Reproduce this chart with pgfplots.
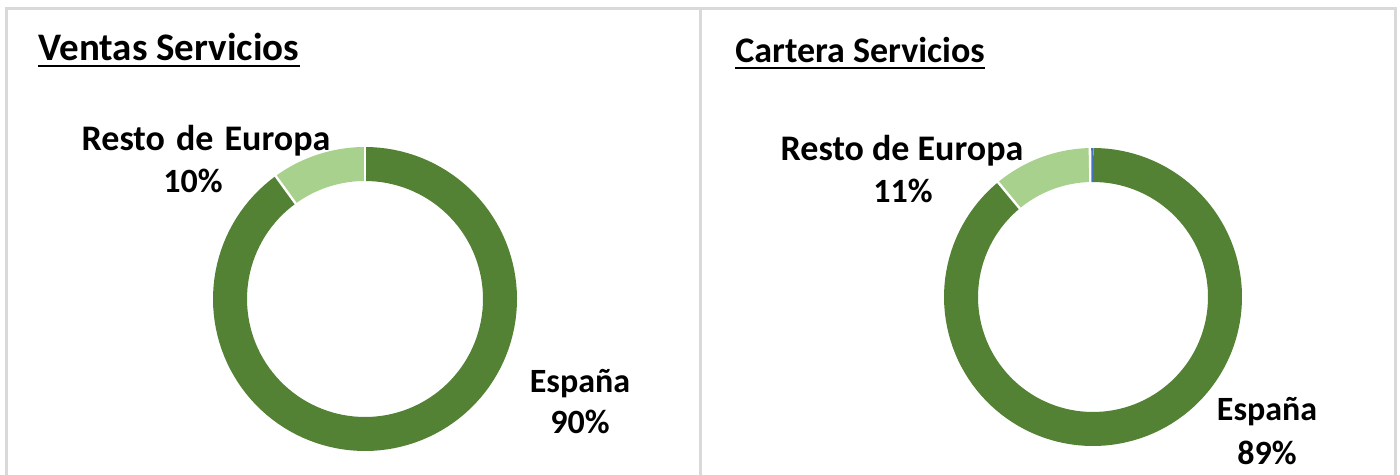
\documentclass[border=0pt]{standalone}
\usepackage{fontspec}
\setmainfont{Carlito}
\usepackage{pgfplots}
\usepackage{pgfplotstable}
\pgfplotsset{compat=1.18}
\definecolor{dgreen}{HTML}{548235}
\definecolor{lgreen}{HTML}{A9D18E}
\definecolor{oblue}{HTML}{4472C4}
\definecolor{bgray}{HTML}{D9D9D9}

\pgfplotstableread{
region value
Espana 90
Resto 10
}\ventas
\pgfplotstableread{
region value
Espana 89
Resto 10.8
Otros 0.2
}\cartera

\pgfplotstablegetelem{0}{value}\of\ventas \pgfmathsetmacro\vA{\pgfplotsretval}
\pgfplotstablegetelem{1}{value}\of\ventas \pgfmathsetmacro\vB{\pgfplotsretval}
\pgfplotstablegetelem{0}{value}\of\cartera \pgfmathsetmacro\cA{\pgfplotsretval}
\pgfplotstablegetelem{1}{value}\of\cartera \pgfmathsetmacro\cB{\pgfplotsretval}
\pgfplotstablegetelem{2}{value}\of\cartera \pgfmathsetmacro\cC{\pgfplotsretval}

\pgfmathsetmacro\LaE{90-3.6*\vA}
\pgfmathsetmacro\LbE{\LaE-3.6*\vB}
\pgfmathsetmacro\RaE{90-3.6*\cA}
\pgfmathsetmacro\RbE{\RaE-3.6*\cB}
\pgfmathsetmacro\RcE{\RbE-3.6*\cC}

% centres / radii in pixel units
\def\Lx{365}\def\Ly{299}\def\Lm{135}
\def\Rx{1093}\def\Ry{297}\def\Rm{132}

\begin{document}
\begin{tikzpicture}
\begin{axis}[name=ax,
  x=0.5pt, y=0.5pt, xmin=0, xmax=1400, ymin=0, ymax=475, y dir=reverse,
  hide axis, scale only axis, clip=true]
% panels
\draw[bgray, line width=1.5pt] (axis cs:6,520) -- (axis cs:6,9) -- (axis cs:1395,9) -- (axis cs:1395,520);
\draw[bgray, line width=1.5pt] (axis cs:700.5,9) -- (axis cs:700.5,520);

% left donut
\addplot[dgreen, line width=17pt, domain=\LaE:90, samples=120, variable=\t]
  ({\Lx+\Lm*cos(t)},{\Ly-\Lm*sin(t)});
\addplot[lgreen, line width=17pt, domain=\LbE:\LaE, samples=30, variable=\t]
  ({\Lx+\Lm*cos(t)},{\Ly-\Lm*sin(t)});
\draw[white, line width=1.2pt] (axis cs:{\Lx+110*cos(\LaE)},{\Ly-110*sin(\LaE)}) -- (axis cs:{\Lx+160*cos(\LaE)},{\Ly-160*sin(\LaE)});
\draw[white, line width=1.2pt] (axis cs:{\Lx+110*cos(\LbE)},{\Ly-110*sin(\LbE)}) -- (axis cs:{\Lx+160*cos(\LbE)},{\Ly-160*sin(\LbE)});

% right donut
\addplot[dgreen, line width=17pt, domain=\RaE:90, samples=120, variable=\t]
  ({\Rx+\Rm*cos(t)},{\Ry-\Rm*sin(t)});
\addplot[lgreen, line width=17pt, domain=\RbE:\RaE, samples=30, variable=\t]
  ({\Rx+\Rm*cos(t)},{\Ry-\Rm*sin(t)});
\draw[white, line width=1.2pt] (axis cs:{\Rx+108*cos(\RaE)},{\Ry-108*sin(\RaE)}) -- (axis cs:{\Rx+156*cos(\RaE)},{\Ry-156*sin(\RaE)});
\draw[white, line width=1.6pt] (axis cs:{\Rx+108*cos(\RbE+0.36)},{\Ry-108*sin(\RbE+0.36)}) -- (axis cs:{\Rx+156*cos(\RbE+0.36)},{\Ry-156*sin(\RbE+0.36)});
\addplot[oblue, line width=17pt, domain=\RcE:\RbE, samples=2, variable=\t]
  ({\Rx+\Rm*cos(t)},{\Ry-\Rm*sin(t)});

% titles
\node[anchor=base west, inner sep=0pt, font=\fontsize{19.5}{23}\selectfont\bfseries] (t1) at (axis cs:38,61) {Ventas Servicios};
\draw[black, line width=1pt] ([yshift=-2.6pt]t1.base west) -- ([yshift=-2.6pt]t1.base east);
\node[anchor=base west, inner sep=0pt, font=\fontsize{18}{22}\selectfont\bfseries] (t2) at (axis cs:735,63) {Cartera Servicios};
\draw[black, line width=1pt] ([yshift=-2.5pt]t2.base west) -- ([yshift=-2.5pt]t2.base east);

% labels
\tikzset{lab/.style={anchor=base, inner sep=0pt, font=\fontsize{17}{21}\selectfont\bfseries},
         labr/.style={anchor=base, inner sep=0pt, font=\fontsize{18}{22}\selectfont\bfseries}}
\node[labr] at (axis cs:206,151) {Resto\hspace{1.5pt} de\hspace{1.5pt} Europa};
\node[lab] at (axis cs:193,193) {10\%};
\node[lab] at (axis cs:580,392) {España};
\node[lab] at (axis cs:580,433) {90\%};
\node[labr] at (axis cs:902,161) {Resto de Europa};
\node[lab] at (axis cs:903,203) {11\%};
\node[lab] at (axis cs:1267,420) {España};
\node[lab] at (axis cs:1267,464) {89\%};
\end{axis}
\pgfresetboundingbox
\path (ax.south west) rectangle (ax.north east);
\end{tikzpicture}
\end{document}
